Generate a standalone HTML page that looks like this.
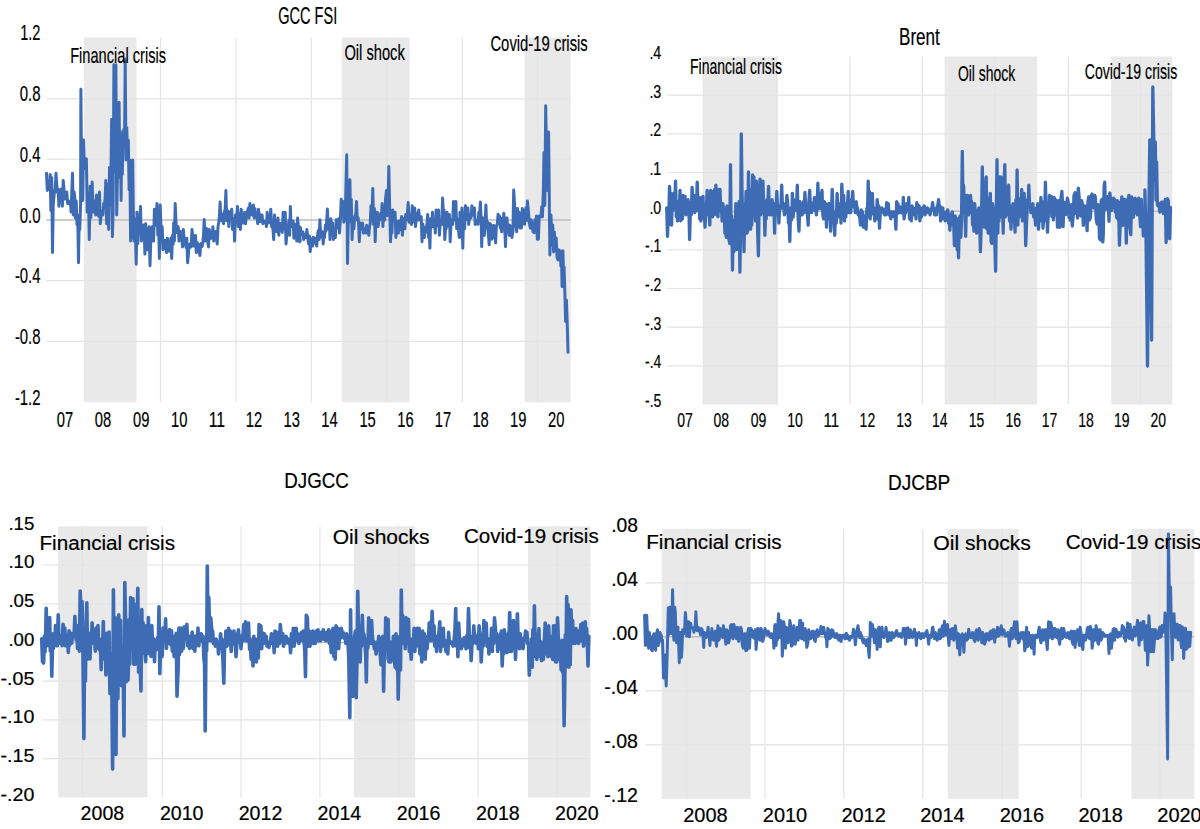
<!DOCTYPE html>
<html><head><meta charset="utf-8"><style>
html,body{margin:0;padding:0;background:#fff;}
svg{display:block;font-family:"Liberation Sans", sans-serif;}
</style></head><body>
<svg width="1200" height="829" viewBox="0 0 1200 829">
<rect width="1200" height="829" fill="#fff"/>
<line x1="160.5" y1="37.6" x2="160.5" y2="402.2" stroke="#e4e4e4" stroke-width="1.2"/>
<line x1="236.0" y1="37.6" x2="236.0" y2="402.2" stroke="#e4e4e4" stroke-width="1.2"/>
<line x1="311.3" y1="37.6" x2="311.3" y2="402.2" stroke="#e4e4e4" stroke-width="1.2"/>
<line x1="387.0" y1="37.6" x2="387.0" y2="402.2" stroke="#e4e4e4" stroke-width="1.2"/>
<line x1="462.4" y1="37.6" x2="462.4" y2="402.2" stroke="#e4e4e4" stroke-width="1.2"/>
<line x1="537.5" y1="37.6" x2="537.5" y2="402.2" stroke="#e4e4e4" stroke-width="1.2"/>
<line x1="46.5" y1="98.8" x2="570.7" y2="98.8" stroke="#e4e4e4" stroke-width="1.2"/>
<line x1="46.5" y1="159.2" x2="570.7" y2="159.2" stroke="#e4e4e4" stroke-width="1.2"/>
<line x1="46.5" y1="280.6" x2="570.7" y2="280.6" stroke="#e4e4e4" stroke-width="1.2"/>
<line x1="46.5" y1="341.3" x2="570.7" y2="341.3" stroke="#e4e4e4" stroke-width="1.2"/>
<rect x="83.9" y="37.6" width="52.7" height="364.6" fill="#e4e4e4" fill-opacity="0.815"/>
<rect x="341.8" y="37.6" width="67.7" height="364.6" fill="#e4e4e4" fill-opacity="0.815"/>
<rect x="524.5" y="37.6" width="46.2" height="364.6" fill="#e4e4e4" fill-opacity="0.815"/>
<line x1="46.5" y1="220.0" x2="570.7" y2="220.0" stroke="#bcbcbc" stroke-width="1.4"/>
<polyline points="46.5,173.2 47.3,190.4 48.0,181.3 48.7,182.4 49.4,189.0 50.2,174.6 50.9,210.6 51.7,177.5 52.5,252.6 53.2,205.3 53.8,198.3 54.5,191.3 55.2,189.0 56.0,173.2 56.7,183.3 57.4,192.3 58.1,189.1 58.9,206.3 59.6,198.4 60.3,199.9 61.0,189.3 61.7,191.2 62.4,206.3 63.2,180.4 63.9,188.2 64.6,199.1 65.3,198.1 66.0,192.6 66.8,192.0 67.6,203.4 68.3,202.5 69.0,203.7 69.7,201.3 70.4,201.6 71.1,212.1 71.9,189.1 72.5,173.2 73.3,215.0 74.0,191.8 74.7,196.3 75.4,217.9 76.2,200.7 77.0,224.7 77.7,215.1 78.5,262.8 79.2,217.4 79.8,229.5 80.6,203.6 80.9,89.2 81.7,200.6 82.7,200.6 83.5,139.9 84.2,162.4 84.9,168.4 85.7,165.0 86.4,158.7 87.2,212.1 87.9,193.3 88.6,201.7 89.3,239.6 90.1,186.2 90.8,217.6 91.5,202.8 92.2,181.9 93.0,212.1 93.7,201.5 94.4,201.0 95.0,205.3 95.7,215.0 96.5,194.9 97.2,205.0 98.0,202.7 98.7,216.3 99.5,192.0 100.3,223.7 100.9,216.7 101.6,213.3 102.3,211.1 102.9,215.0 103.7,203.6 104.4,204.3 105.1,198.8 105.8,180.4 106.6,223.7 107.3,194.2 108.0,184.3 108.7,229.5 109.5,167.4 110.2,205.4 110.9,178.6 111.6,119.6 112.4,236.7 113.1,212.1 113.9,64.7 114.6,171.8 115.2,128.5 115.9,64.7 116.7,215.0 117.5,172.9 118.3,177.4 119.1,102.3 119.7,168.9 120.3,131.2 121.1,200.6 121.7,143.7 122.3,174.5 123.1,137.0 123.8,129.4 124.5,145.9 125.2,58.9 126.0,160.0 126.8,127.8 127.5,157.1 128.3,139.9 129.1,189.7 129.8,160.1 130.6,241.1 131.2,194.7 131.9,238.2 132.7,160.1 133.3,209.3 134.1,241.1 134.8,219.0 135.5,237.6 136.2,264.2 137.0,212.2 137.7,244.0 138.4,225.8 139.1,218.6 139.8,222.6 140.5,206.4 141.3,241.1 142.1,236.8 142.8,235.3 143.5,225.0 144.2,230.9 144.9,254.1 145.7,223.8 146.4,232.2 147.1,232.3 147.8,250.0 148.5,237.1 149.2,226.7 150.0,265.7 150.7,243.4 151.4,236.6 152.2,226.7 152.9,234.3 153.6,241.1 154.4,209.3 155.0,216.3 155.7,225.2 156.4,213.1 157.0,203.6 157.8,235.3 158.6,223.4 159.4,258.4 160.2,205.0 160.9,225.9 161.6,231.2 162.2,226.7 163.0,249.8 163.8,246.1 164.5,244.9 165.2,240.3 165.9,248.0 166.6,252.6 167.4,238.3 168.1,243.2 168.8,245.5 169.5,251.2 170.2,249.5 170.9,238.3 171.7,258.4 172.4,235.6 173.1,244.4 173.7,222.7 174.4,241.1 175.2,203.6 175.9,220.3 176.7,232.6 177.4,228.8 178.2,226.7 179.0,241.1 179.7,232.8 180.4,231.4 181.1,232.3 181.8,238.2 182.5,246.9 183.3,229.6 184.0,237.6 184.7,244.5 185.4,243.8 186.1,247.4 186.8,238.3 187.6,262.8 188.4,254.8 189.1,245.4 189.8,244.1 190.5,245.1 191.2,246.9 192.0,229.6 192.7,235.9 193.4,236.7 194.1,246.2 194.8,246.4 195.5,235.4 196.3,252.6 197.0,242.6 197.7,243.4 198.5,249.6 199.2,252.2 199.9,255.5 200.7,244.1 201.4,243.3 202.1,246.5 202.8,242.4 203.5,235.5 204.2,219.5 205.0,241.1 205.7,230.8 206.4,228.4 207.1,229.4 207.8,242.0 208.5,246.9 209.3,229.6 210.1,234.6 210.8,238.6 211.5,233.2 212.2,237.9 212.9,226.7 213.7,241.1 214.4,235.1 215.1,232.4 215.8,231.4 216.5,237.4 217.2,244.0 218.0,226.7 218.7,222.5 219.4,216.3 220.1,202.1 220.9,220.8 221.6,213.7 222.3,218.1 222.9,217.3 223.6,223.7 224.4,212.2 225.2,208.9 225.9,190.5 226.7,220.8 227.4,216.9 228.1,211.1 228.8,226.6 229.6,212.2 230.3,214.4 231.0,216.7 231.7,209.3 232.5,229.5 233.2,221.5 233.9,218.5 234.6,241.1 235.4,215.1 236.1,219.3 236.8,218.5 237.5,206.4 238.3,226.6 239.0,218.4 239.7,213.7 240.4,229.5 241.2,209.3 241.9,217.5 242.6,223.0 243.3,223.1 244.0,219.6 244.7,212.2 245.5,223.7 246.2,218.0 246.9,215.8 247.6,210.6 248.4,208.1 249.1,217.9 249.9,203.6 250.6,206.5 251.3,214.6 252.0,212.9 252.7,215.2 253.4,205.0 254.2,217.9 254.9,208.4 255.6,214.7 256.3,214.3 257.0,217.6 257.7,223.7 258.5,209.3 259.3,215.6 260.0,221.5 260.7,215.3 261.4,219.1 262.1,215.1 262.9,223.7 263.6,220.9 264.3,222.2 265.0,221.2 265.7,221.1 266.4,226.6 267.2,212.2 267.9,221.9 268.6,223.0 269.4,217.0 270.1,220.2 270.8,209.3 271.6,226.6 272.3,226.2 273.0,229.5 273.7,239.6 274.5,215.1 275.2,226.0 275.9,231.1 276.6,231.6 277.3,227.7 278.0,218.0 278.8,235.3 279.5,227.2 280.2,223.5 280.9,225.1 281.6,224.5 282.3,232.4 283.1,212.2 283.8,217.8 284.5,228.7 285.2,212.2 286.0,244.0 286.7,236.5 287.5,232.6 288.2,228.1 288.9,220.2 289.6,235.3 290.4,206.4 291.0,226.9 291.7,226.4 292.4,226.6 293.1,220.9 293.9,238.2 294.6,233.6 295.3,224.2 296.1,233.0 296.8,241.1 297.6,218.0 298.2,224.9 298.8,233.6 299.4,226.7 300.2,241.1 299.6,241.8 300.4,227.4 301.2,234.8 302.0,233.6 302.9,231.8 303.7,239.6 304.5,236.0 305.3,234.2 306.1,237.5 306.9,229.6 307.7,237.7 308.6,243.9 309.4,236.1 310.2,251.6 311.0,241.0 311.8,238.9 312.6,246.1 313.4,237.2 314.2,240.8 315.1,243.0 315.9,238.3 316.7,246.1 317.5,235.8 318.3,230.6 319.1,239.6 319.9,219.8 320.8,236.9 321.6,236.7 322.4,231.8 323.2,244.0 323.9,234.2 324.6,237.5 325.4,225.3 326.0,230.9 326.7,221.1 327.4,209.0 328.2,228.8 328.8,224.5 329.4,221.8 330.0,239.6 330.8,218.7 331.4,229.1 332.0,234.2 332.6,223.1 333.4,239.6 334.1,234.9 334.8,233.8 335.4,237.5 336.2,219.8 337.0,226.5 337.9,227.7 338.7,218.7 339.5,233.1 340.4,220.1 341.2,199.2 341.8,207.9 342.4,206.2 343.0,201.4 343.8,222.3 344.5,206.9 345.2,220.1 346.0,184.0 346.7,154.7 347.5,263.5 348.3,221.4 349.1,222.3 349.9,179.7 350.6,219.5 351.3,199.2 352.1,239.6 352.7,224.7 353.3,227.8 353.9,228.8 354.7,216.6 355.3,216.6 355.9,211.2 356.5,201.4 357.3,220.1 358.0,217.4 358.6,222.5 359.3,241.8 360.1,223.1 360.9,228.1 361.7,228.8 362.6,223.1 363.4,233.1 364.2,229.2 365.0,228.8 365.8,233.1 366.6,225.3 367.3,229.3 368.0,227.4 368.8,235.3 369.5,226.1 370.2,224.4 371.0,205.7 371.6,219.7 372.2,208.4 372.8,188.4 373.6,224.4 374.4,208.6 375.2,241.8 376.0,214.4 376.6,217.5 377.3,212.2 378.1,226.6 378.8,220.7 379.5,220.1 380.3,214.4 380.9,213.2 381.5,218.1 382.1,203.5 382.9,226.6 383.5,214.3 384.1,208.8 384.7,220.1 385.5,199.2 386.5,190.5 387.3,215.7 388.0,207.1 388.8,166.6 389.7,207.9 390.5,241.8 391.2,228.5 391.9,233.1 392.7,210.1 393.5,215.4 394.3,218.1 395.1,212.2 395.9,237.5 396.8,225.0 397.6,221.3 398.4,233.1 399.2,220.9 400.0,229.7 400.8,223.5 401.6,216.6 402.4,235.3 403.3,220.5 404.1,218.5 404.9,228.8 405.7,214.4 406.5,219.9 407.3,214.8 408.2,202.5 409.0,222.3 409.8,214.9 410.6,216.1 411.4,224.4 412.2,205.7 413.0,219.5 413.9,222.0 414.7,207.9 415.5,226.6 416.3,218.4 417.1,213.3 417.9,220.1 418.7,210.1 419.6,219.5 420.4,220.3 421.2,216.6 422.0,241.8 422.8,224.0 423.6,231.1 424.4,237.5 425.2,227.4 426.1,232.2 426.9,224.3 427.7,214.4 428.5,237.5 429.2,225.9 429.9,248.3 430.7,218.7 431.3,226.4 431.9,226.6 432.5,212.2 433.3,226.6 434.0,220.4 434.6,222.3 435.3,233.1 436.1,210.1 436.9,225.9 437.7,220.6 438.6,210.1 439.4,235.3 440.2,223.7 441.0,221.8 441.8,224.4 442.6,198.1 443.3,210.7 444.0,210.1 444.8,239.6 445.5,229.1 446.2,228.8 447.0,212.2 447.8,225.9 448.6,219.9 449.4,214.4 450.2,241.8 451.0,222.3 451.9,219.9 452.7,224.4 453.5,201.4 454.3,220.1 455.1,212.3 455.9,201.4 456.7,228.8 457.6,219.5 458.4,227.9 459.2,237.5 460.0,212.2 460.7,231.7 461.3,237.1 462.0,207.9 462.8,248.3 463.4,223.7 464.0,223.7 464.6,228.8 465.4,205.7 466.2,212.9 467.1,219.2 467.9,207.9 468.7,224.4 469.5,217.8 470.3,214.5 471.1,217.9 471.9,205.7 472.7,215.2 473.6,211.9 474.4,207.9 475.2,224.4 475.9,220.6 476.6,221.6 477.3,221.8 478.0,224.3 478.8,212.3 479.6,215.7 480.4,202.1 481.2,222.4 481.7,246.7 482.5,217.9 483.6,217.9 484.4,235.5 485.1,224.3 485.9,204.9 486.6,223.4 487.4,221.7 488.2,231.8 489.2,244.8 490.0,223.6 491.1,225.4 491.9,239.2 493.0,237.4 493.8,225.4 494.8,227.3 495.6,243.0 496.4,225.7 497.3,224.3 498.1,214.2 498.8,223.5 499.5,216.1 500.3,228.0 501.0,226.4 501.7,231.8 502.5,217.9 503.2,220.6 503.8,213.3 504.6,224.3 505.5,246.7 506.3,217.9 507.0,217.9 507.8,231.8 508.5,224.5 509.2,235.5 510.0,225.4 511.1,227.3 511.9,237.4 512.9,231.8 513.7,189.9 514.8,208.6 515.6,224.3 516.7,231.8 517.5,208.6 518.3,219.5 519.1,212.3 519.9,228.0 520.7,219.8 521.5,228.0 522.3,208.6 523.1,220.7 523.8,210.5 524.6,224.3 525.3,215.1 525.9,207.7 526.6,220.6 527.4,201.1 528.5,212.3 529.3,222.4 530.3,228.0 531.1,219.8 532.2,223.6 533.0,231.8 534.1,232.7 534.9,219.8 535.7,230.5 536.5,216.1 537.3,239.2 538.4,239.2 539.2,216.1 540.2,216.1 541.0,216.8 541.7,206.8 542.5,216.8 543.3,191.8 544.0,152.6 544.8,205.6 544.9,198.1 545.7,105.8 546.2,133.9 547.0,183.2 547.7,190.7 548.5,180.6 548.6,132.0 549.4,205.6 549.3,205.0 549.9,255.0 551.0,215.0 552.0,245.0 552.8,225.0 553.6,252.0 554.4,232.0 555.3,250.0 556.2,238.0 557.0,257.0 558.0,260.0 558.8,249.7 559.4,259.1 560.1,250.7 560.9,266.1 561.5,258.1 562.1,286.6 562.9,250.7 563.5,271.4 564.1,267.1 564.9,294.8 565.6,321.5 566.4,299.9 567.2,322.4 568.0,352.2" fill="none" stroke="#3d6cb5" stroke-width="3.0" stroke-linejoin="round" stroke-linecap="round"/>
<text x="278.3" y="23.7" font-size="23.7" text-anchor="start" fill="#000" stroke="#000" stroke-width="0.2" textLength="58.9" lengthAdjust="spacingAndGlyphs">GCC FSI</text>
<text x="20.2" y="40.2" font-size="21.2" text-anchor="start" fill="#000" stroke="#000" stroke-width="0.2" textLength="20.3" lengthAdjust="spacingAndGlyphs">1.2</text>
<text x="19.7" y="101.4" font-size="21.2" text-anchor="start" fill="#000" stroke="#000" stroke-width="0.2" textLength="20.8" lengthAdjust="spacingAndGlyphs">0.8</text>
<text x="19.7" y="161.8" font-size="21.2" text-anchor="start" fill="#000" stroke="#000" stroke-width="0.2" textLength="20.8" lengthAdjust="spacingAndGlyphs">0.4</text>
<text x="19.7" y="222.6" font-size="21.2" text-anchor="start" fill="#000" stroke="#000" stroke-width="0.2" textLength="20.8" lengthAdjust="spacingAndGlyphs">0.0</text>
<text x="14.9" y="283.2" font-size="21.2" text-anchor="start" fill="#000" stroke="#000" stroke-width="0.2" textLength="25.6" lengthAdjust="spacingAndGlyphs">-0.4</text>
<text x="14.9" y="343.9" font-size="21.2" text-anchor="start" fill="#000" stroke="#000" stroke-width="0.2" textLength="25.6" lengthAdjust="spacingAndGlyphs">-0.8</text>
<text x="14.9" y="404.8" font-size="21.2" text-anchor="start" fill="#000" stroke="#000" stroke-width="0.2" textLength="25.6" lengthAdjust="spacingAndGlyphs">-1.2</text>
<text x="56.8" y="426.5" font-size="22.3" text-anchor="start" fill="#000" stroke="#000" stroke-width="0.2" textLength="16.4" lengthAdjust="spacingAndGlyphs">07</text>
<text x="94.8" y="426.5" font-size="22.3" text-anchor="start" fill="#000" stroke="#000" stroke-width="0.2" textLength="16.4" lengthAdjust="spacingAndGlyphs">08</text>
<text x="133.1" y="426.5" font-size="22.3" text-anchor="start" fill="#000" stroke="#000" stroke-width="0.2" textLength="16.4" lengthAdjust="spacingAndGlyphs">09</text>
<text x="171.1" y="426.5" font-size="22.3" text-anchor="start" fill="#000" stroke="#000" stroke-width="0.2" textLength="16.4" lengthAdjust="spacingAndGlyphs">10</text>
<text x="208.7" y="426.5" font-size="22.3" text-anchor="start" fill="#000" stroke="#000" stroke-width="0.2" textLength="16.4" lengthAdjust="spacingAndGlyphs">11</text>
<text x="245.8" y="426.5" font-size="22.3" text-anchor="start" fill="#000" stroke="#000" stroke-width="0.2" textLength="16.4" lengthAdjust="spacingAndGlyphs">12</text>
<text x="283.5" y="426.5" font-size="22.3" text-anchor="start" fill="#000" stroke="#000" stroke-width="0.2" textLength="16.4" lengthAdjust="spacingAndGlyphs">13</text>
<text x="321.2" y="426.5" font-size="22.3" text-anchor="start" fill="#000" stroke="#000" stroke-width="0.2" textLength="16.4" lengthAdjust="spacingAndGlyphs">14</text>
<text x="359.4" y="426.5" font-size="22.3" text-anchor="start" fill="#000" stroke="#000" stroke-width="0.2" textLength="16.4" lengthAdjust="spacingAndGlyphs">15</text>
<text x="397.2" y="426.5" font-size="22.3" text-anchor="start" fill="#000" stroke="#000" stroke-width="0.2" textLength="16.4" lengthAdjust="spacingAndGlyphs">16</text>
<text x="434.8" y="426.5" font-size="22.3" text-anchor="start" fill="#000" stroke="#000" stroke-width="0.2" textLength="16.4" lengthAdjust="spacingAndGlyphs">17</text>
<text x="472.4" y="426.5" font-size="22.3" text-anchor="start" fill="#000" stroke="#000" stroke-width="0.2" textLength="16.4" lengthAdjust="spacingAndGlyphs">18</text>
<text x="510.0" y="426.5" font-size="22.3" text-anchor="start" fill="#000" stroke="#000" stroke-width="0.2" textLength="16.4" lengthAdjust="spacingAndGlyphs">19</text>
<text x="548.0" y="426.5" font-size="22.3" text-anchor="start" fill="#000" stroke="#000" stroke-width="0.2" textLength="16.4" lengthAdjust="spacingAndGlyphs">20</text>
<text x="70.2" y="63.0" font-size="22.8" text-anchor="start" fill="#000" stroke="#000" stroke-width="0.2" textLength="95.8" lengthAdjust="spacingAndGlyphs">Financial crisis</text>
<text x="344.4" y="59.7" font-size="22.8" text-anchor="start" fill="#000" stroke="#000" stroke-width="0.2" textLength="60.4" lengthAdjust="spacingAndGlyphs">Oil shock</text>
<text x="490.4" y="51.0" font-size="22.8" text-anchor="start" fill="#000" stroke="#000" stroke-width="0.2" textLength="97.4" lengthAdjust="spacingAndGlyphs">Covid-19 crisis</text>
<line x1="703.4" y1="56.5" x2="703.4" y2="404.5" stroke="#e4e4e4" stroke-width="1.2"/>
<line x1="776.6" y1="56.5" x2="776.6" y2="404.5" stroke="#e4e4e4" stroke-width="1.2"/>
<line x1="850.1" y1="56.5" x2="850.1" y2="404.5" stroke="#e4e4e4" stroke-width="1.2"/>
<line x1="922.3" y1="56.5" x2="922.3" y2="404.5" stroke="#e4e4e4" stroke-width="1.2"/>
<line x1="995.1" y1="56.5" x2="995.1" y2="404.5" stroke="#e4e4e4" stroke-width="1.2"/>
<line x1="1068.2" y1="56.5" x2="1068.2" y2="404.5" stroke="#e4e4e4" stroke-width="1.2"/>
<line x1="1140.5" y1="56.5" x2="1140.5" y2="404.5" stroke="#e4e4e4" stroke-width="1.2"/>
<line x1="667.0" y1="95.2" x2="1172.3" y2="95.2" stroke="#e4e4e4" stroke-width="1.2"/>
<line x1="667.0" y1="133.8" x2="1172.3" y2="133.8" stroke="#e4e4e4" stroke-width="1.2"/>
<line x1="667.0" y1="172.5" x2="1172.3" y2="172.5" stroke="#e4e4e4" stroke-width="1.2"/>
<line x1="667.0" y1="249.9" x2="1172.3" y2="249.9" stroke="#e4e4e4" stroke-width="1.2"/>
<line x1="667.0" y1="288.5" x2="1172.3" y2="288.5" stroke="#e4e4e4" stroke-width="1.2"/>
<line x1="667.0" y1="327.2" x2="1172.3" y2="327.2" stroke="#e4e4e4" stroke-width="1.2"/>
<line x1="667.0" y1="365.9" x2="1172.3" y2="365.9" stroke="#e4e4e4" stroke-width="1.2"/>
<rect x="703.2" y="56.5" width="74.7" height="348.0" fill="#e4e4e4" fill-opacity="0.815"/>
<rect x="944.6" y="56.5" width="92.6" height="348.0" fill="#e4e4e4" fill-opacity="0.815"/>
<rect x="1111.2" y="56.5" width="61.0" height="348.0" fill="#e4e4e4" fill-opacity="0.815"/>
<line x1="667.0" y1="211.2" x2="1172.3" y2="211.2" stroke="#bcbcbc" stroke-width="1.4"/>
<polyline points="666.7,207.8 667.5,236.3 668.1,220.0 668.7,225.0 669.5,186.3 670.2,199.3 670.8,193.4 671.6,225.0 672.2,200.2 672.8,210.7 673.6,193.4 674.3,201.3 674.9,204.2 675.5,181.1 676.3,216.8 676.9,211.1 677.5,220.9 678.3,201.7 679.2,211.5 680.0,190.4 680.8,220.9 681.6,214.1 682.5,218.9 683.3,195.5 683.9,206.6 684.5,211.9 685.1,196.5 685.9,214.8 686.6,201.7 687.2,212.7 688.0,199.6 688.8,203.7 689.6,239.4 690.5,205.7 691.3,214.8 692.1,187.3 692.7,202.5 693.3,200.3 694.0,195.5 694.8,212.7 695.6,203.6 696.4,210.7 697.2,182.2 698.1,204.5 698.9,197.5 699.7,218.9 700.3,209.0 700.9,220.9 701.7,197.5 702.4,213.5 703.0,196.5 703.8,218.9 704.4,213.4 705.0,227.1 705.8,207.8 706.5,207.4 707.1,190.4 707.9,214.8 708.5,202.2 709.1,212.9 709.8,225.0 710.6,190.4 711.2,213.6 711.8,191.4 712.6,216.8 713.2,198.3 713.9,214.8 714.7,189.3 715.3,207.2 715.9,185.2 716.7,214.8 717.3,210.1 718.0,216.8 718.8,189.3 719.4,201.9 720.0,189.3 720.8,210.7 721.4,207.1 722.1,220.9 722.9,203.7 723.5,212.3 724.1,207.8 724.9,233.2 725.5,221.7 726.2,237.3 727.0,205.8 727.6,223.1 728.2,209.9 729.0,239.4 729.7,243.5 730.5,164.7 731.1,228.1 731.7,216.0 732.5,270.1 733.1,226.5 733.8,251.7 734.6,220.1 735.2,242.9 735.8,203.7 736.6,249.6 737.4,241.4 738.2,207.8 739.1,201.7 739.9,272.2 740.5,233.2 741.3,134.0 742.0,189.3 742.8,235.3 743.4,220.5 744.0,251.7 744.8,203.7 745.4,217.1 746.1,191.4 746.9,233.2 747.7,231.2 748.5,171.9 749.1,214.9 749.8,189.3 750.6,229.1 751.2,206.4 751.8,225.0 752.6,175.0 753.2,194.7 753.9,177.0 754.7,202.5 755.5,220.9 756.3,181.1 756.9,195.5 757.7,233.2 758.4,255.8 759.2,199.6 760.0,179.1 760.8,214.8 761.4,201.0 762.1,212.7 762.9,181.1 763.5,199.4 764.1,203.7 764.9,235.3 765.5,215.0 766.2,218.9 767.0,199.6 767.8,203.6 768.6,186.3 769.4,214.8 770.0,209.8 770.7,210.3 771.3,214.8 772.1,199.6 772.9,209.5 773.8,203.7 774.6,233.2 775.3,209.3 776.0,210.7 776.8,191.4 777.4,204.1 778.1,207.8 778.9,223.0 779.6,208.5 780.2,207.2 780.9,208.6 781.7,185.2 782.4,206.0 783.0,204.9 783.6,203.7 784.4,214.8 785.2,205.0 786.1,212.7 786.9,195.5 787.7,203.7 788.5,223.0 789.1,213.8 789.8,241.4 790.6,207.8 791.2,220.4 791.8,218.9 792.4,193.4 793.2,216.8 794.1,201.0 794.9,210.7 795.7,199.6 796.5,206.9 797.3,185.2 798.1,216.8 799.0,231.2 799.8,201.7 800.6,206.6 801.4,203.7 802.2,214.8 802.9,204.2 803.5,201.8 804.1,212.7 804.9,192.4 805.7,207.8 806.6,203.7 807.4,214.8 808.2,225.0 809.0,199.6 809.7,190.4 810.5,210.7 811.1,202.7 811.7,212.7 812.5,203.7 813.1,205.9 813.7,206.4 814.4,197.5 815.2,210.7 815.8,202.8 816.4,214.8 817.2,201.7 817.9,183.2 818.7,208.6 819.3,201.5 819.9,208.6 820.7,193.4 821.3,197.0 822.0,190.4 822.8,214.8 823.6,218.9 824.4,201.7 825.0,213.0 825.7,203.7 826.5,227.1 827.1,210.3 827.7,218.9 828.5,203.7 829.1,210.2 829.8,203.7 830.6,231.2 831.4,216.8 832.2,189.3 833.0,213.8 833.9,211.9 834.7,235.3 835.5,214.8 836.3,223.0 837.1,193.4 837.7,207.5 838.4,203.7 839.2,216.8 839.8,206.8 840.4,206.4 841.0,223.0 841.8,184.2 842.5,197.7 843.1,201.0 843.7,195.5 844.5,220.9 845.1,210.8 845.8,216.8 846.6,203.7 847.4,207.7 848.2,191.4 849.0,212.7 849.8,204.4 850.7,212.7 851.5,199.6 852.1,205.7 852.7,191.4 853.5,206.6 854.2,202.7 854.8,207.3 855.4,212.7 856.2,201.7 856.8,207.7 857.4,207.8 858.2,214.8 859.0,214.8 859.8,217.9 860.5,225.0 861.3,209.9 861.9,221.6 862.6,211.9 863.4,225.0 863.3,227.1 864.1,216.0 864.7,221.3 865.3,218.1 866.1,229.1 866.8,208.5 867.4,216.8 868.2,181.1 868.8,210.6 869.4,191.4 870.2,218.9 870.9,199.9 871.5,212.7 872.3,193.4 873.1,213.9 874.0,207.8 874.8,220.9 875.6,215.8 876.4,218.9 877.2,199.6 877.9,208.2 878.7,205.8 879.5,228.1 880.3,211.3 881.1,212.7 881.9,207.8 882.6,211.9 883.2,211.8 883.8,211.9 884.6,214.8 885.2,209.1 885.9,214.8 886.7,202.7 887.5,211.4 888.3,203.7 889.1,214.8 889.9,211.9 890.8,218.9 891.6,211.9 892.2,216.2 892.8,213.4 893.4,211.9 894.2,216.8 895.1,213.9 895.9,229.1 896.7,201.7 897.3,214.0 898.0,203.7 898.8,212.7 899.4,206.5 900.0,208.4 900.6,212.7 901.4,207.8 902.0,210.8 902.7,213.1 903.3,197.5 904.1,218.9 904.9,212.7 905.8,212.7 906.6,203.7 907.3,205.0 908.1,208.3 908.8,197.5 909.6,218.9 910.5,213.8 911.3,220.9 912.1,205.8 912.7,212.3 913.3,207.8 914.1,214.8 914.8,212.3 915.4,208.3 916.0,218.9 916.8,202.7 917.6,207.3 918.3,208.6 919.1,205.8 919.9,220.9 920.7,209.2 921.5,216.8 922.3,207.8 923.0,211.9 923.6,211.0 924.2,205.8 925.0,214.8 925.8,210.6 926.7,212.7 927.5,207.8 928.1,210.3 928.7,211.6 929.3,211.9 930.1,214.8 931.0,208.7 931.8,208.6 932.6,202.7 933.2,209.9 933.9,207.8 934.7,214.8 935.3,213.3 935.9,212.9 936.5,214.8 937.3,205.8 937.9,204.8 938.6,199.6 939.4,208.6 940.0,206.1 940.6,220.9 941.4,207.8 942.1,217.3 942.7,207.8 943.5,218.9 944.1,214.1 944.7,217.0 945.3,220.9 946.1,211.9 947.0,215.2 947.8,209.9 948.6,223.0 949.2,218.9 949.9,230.1 950.7,214.0 951.5,220.4 952.3,211.9 953.1,225.0 953.7,223.7 954.4,245.5 955.2,216.0 955.8,234.3 956.4,218.1 957.2,249.6 957.8,225.6 958.5,257.8 959.3,220.1 960.1,216.0 960.9,237.3 961.5,220.9 962.3,151.4 963.0,198.8 963.6,185.2 964.4,212.7 965.0,215.0 965.7,236.3 966.5,195.5 967.1,204.4 967.7,195.5 968.5,214.8 969.1,204.1 969.8,212.7 970.6,195.5 971.2,211.8 971.8,201.7 972.6,225.0 973.2,213.8 973.9,231.2 974.7,203.7 975.3,214.5 975.9,209.9 976.7,233.2 977.3,215.2 978.0,229.1 978.8,207.8 979.6,218.1 980.4,251.7 981.0,233.2 981.8,199.6 982.3,166.8 983.1,220.9 983.7,201.4 984.3,227.1 985.1,189.3 986.2,177.0 987.0,229.1 987.6,198.1 988.2,233.2 989.0,203.7 989.6,227.7 990.3,193.4 991.1,241.4 991.9,243.5 992.7,203.7 993.3,231.2 994.0,207.8 994.8,241.4 995.6,271.2 996.4,207.8 997.0,159.6 997.8,233.2 998.5,205.4 999.1,220.9 999.9,177.0 1000.5,207.6 1001.1,177.0 1001.9,216.8 1002.6,207.1 1003.2,233.2 1004.0,187.3 1004.8,164.7 1005.6,216.8 1006.3,194.6 1006.9,214.8 1007.7,191.4 1008.7,185.2 1009.5,220.9 1010.3,212.1 1011.0,229.1 1011.8,205.8 1012.4,213.9 1013.0,203.7 1013.8,216.8 1014.5,220.1 1015.1,232.2 1015.9,199.6 1016.5,215.2 1017.1,169.9 1017.9,225.0 1018.6,198.6 1019.2,216.8 1020.0,203.7 1020.8,213.6 1021.7,189.3 1022.5,220.9 1023.3,210.7 1024.1,193.4 1024.9,207.8 1025.7,245.5 1026.8,216.8 1027.6,199.6 1028.2,204.4 1028.8,185.2 1029.6,204.5 1030.3,204.4 1030.9,212.7 1031.7,205.8 1032.3,211.8 1032.9,203.7 1033.7,216.8 1034.4,211.4 1035.0,218.4 1035.6,225.0 1036.4,207.8 1037.0,221.6 1037.7,203.7 1038.5,229.1 1039.3,215.9 1040.1,220.9 1040.9,197.5 1041.5,216.3 1042.2,201.7 1043.0,228.1 1043.8,213.7 1044.6,220.9 1045.4,182.2 1046.1,207.7 1046.7,203.7 1047.5,232.2 1048.1,215.6 1048.7,216.8 1049.5,195.5 1050.2,200.6 1050.8,204.4 1051.4,196.5 1052.2,216.8 1052.8,207.3 1053.4,219.9 1054.2,197.5 1054.9,202.1 1055.5,199.6 1056.3,214.8 1056.9,208.6 1057.5,227.1 1058.3,200.6 1059.0,201.7 1059.8,227.1 1060.2,210.7 1061.0,198.1 1061.9,191.4 1062.7,208.0 1063.1,226.6 1063.9,202.1 1064.9,204.7 1065.7,214.7 1066.6,208.0 1067.4,198.1 1068.2,202.1 1069.0,217.3 1069.6,212.9 1070.2,220.0 1071.0,207.4 1071.5,204.7 1072.3,226.0 1073.2,214.7 1074.0,195.4 1075.1,192.8 1075.9,213.4 1076.7,205.1 1077.5,218.0 1078.3,188.1 1079.1,196.8 1079.9,212.0 1080.8,216.0 1081.6,200.7 1082.5,204.7 1083.3,225.3 1084.1,208.0 1084.9,206.0 1085.7,207.4 1086.5,218.7 1087.1,230.6 1087.9,202.1 1088.7,196.8 1089.5,220.0 1090.5,217.3 1091.3,195.4 1092.1,194.1 1092.9,206.7 1093.4,198.9 1094.0,208.0 1094.8,195.4 1095.4,198.1 1096.2,218.7 1097.1,224.0 1097.9,204.7 1098.7,207.4 1099.5,238.6 1100.4,239.9 1101.2,200.7 1102.0,199.4 1102.8,241.9 1103.3,233.3 1104.1,186.1 1104.7,182.2 1105.5,209.4 1106.0,204.1 1106.8,199.4 1107.6,196.8 1108.4,208.0 1109.0,221.3 1109.8,192.8 1110.6,199.4 1111.4,210.7 1112.0,207.1 1112.6,208.0 1113.4,198.1 1114.0,205.6 1114.6,199.4 1115.4,212.0 1116.0,205.9 1116.6,217.3 1117.4,200.7 1118.0,219.4 1118.6,202.1 1119.4,245.2 1120.2,225.3 1121.0,204.7 1121.9,196.8 1122.7,225.3 1123.3,212.2 1123.9,222.6 1124.7,199.4 1125.5,207.4 1126.3,243.2 1127.2,212.0 1128.0,199.4 1128.9,195.4 1129.7,222.6 1130.8,234.6 1131.6,196.8 1132.5,202.1 1133.3,217.3 1134.2,209.4 1135.0,198.1 1135.8,199.4 1136.6,212.0 1137.4,214.7 1138.2,202.1 1138.7,198.1 1139.5,209.4 1140.5,226.6 1141.3,199.4 1141.9,219.2 1142.5,212.7 1143.3,235.9 1144.1,235.9 1144.9,207.4 1144.9,190.0 1146.0,236.0 1147.5,366.0 1148.6,230.0 1149.8,140.0 1150.6,250.0 1151.6,340.0 1152.8,87.0 1153.8,140.0 1154.6,180.0 1155.3,142.0 1156.0,200.0 1156.6,162.0 1157.4,205.0 1158.4,206.0 1159.0,203.4 1159.8,212.0 1160.8,210.7 1161.6,202.1 1162.4,202.1 1163.2,213.4 1164.0,208.0 1164.8,202.1 1165.3,199.4 1166.1,242.5 1166.6,233.3 1167.4,198.7 1168.3,200.7 1169.1,227.9 1169.7,238.6 1170.5,207.4" fill="none" stroke="#3d6cb5" stroke-width="3.3" stroke-linejoin="round" stroke-linecap="round"/>
<text x="899.0" y="44.6" font-size="23.8" text-anchor="start" fill="#000" stroke="#000" stroke-width="0.2" textLength="40.8" lengthAdjust="spacingAndGlyphs">Brent</text>
<text x="649.4" y="58.9" font-size="19" text-anchor="start" fill="#000" stroke="#000" stroke-width="0.2" textLength="11.9" lengthAdjust="spacingAndGlyphs">.4</text>
<text x="649.4" y="97.6" font-size="19" text-anchor="start" fill="#000" stroke="#000" stroke-width="0.2" textLength="11.9" lengthAdjust="spacingAndGlyphs">.3</text>
<text x="649.4" y="136.2" font-size="19" text-anchor="start" fill="#000" stroke="#000" stroke-width="0.2" textLength="11.9" lengthAdjust="spacingAndGlyphs">.2</text>
<text x="649.4" y="174.9" font-size="19" text-anchor="start" fill="#000" stroke="#000" stroke-width="0.2" textLength="11.9" lengthAdjust="spacingAndGlyphs">.1</text>
<text x="649.4" y="213.6" font-size="19" text-anchor="start" fill="#000" stroke="#000" stroke-width="0.2" textLength="11.9" lengthAdjust="spacingAndGlyphs">.0</text>
<text x="645.0" y="252.3" font-size="19" text-anchor="start" fill="#000" stroke="#000" stroke-width="0.2" textLength="16.3" lengthAdjust="spacingAndGlyphs">-.1</text>
<text x="645.0" y="290.9" font-size="19" text-anchor="start" fill="#000" stroke="#000" stroke-width="0.2" textLength="16.3" lengthAdjust="spacingAndGlyphs">-.2</text>
<text x="645.0" y="329.6" font-size="19" text-anchor="start" fill="#000" stroke="#000" stroke-width="0.2" textLength="16.3" lengthAdjust="spacingAndGlyphs">-.3</text>
<text x="645.0" y="368.3" font-size="19" text-anchor="start" fill="#000" stroke="#000" stroke-width="0.2" textLength="16.3" lengthAdjust="spacingAndGlyphs">-.4</text>
<text x="645.0" y="406.9" font-size="19" text-anchor="start" fill="#000" stroke="#000" stroke-width="0.2" textLength="16.3" lengthAdjust="spacingAndGlyphs">-.5</text>
<text x="677.3" y="427.0" font-size="20.8" text-anchor="start" fill="#000" stroke="#000" stroke-width="0.2" textLength="15.6" lengthAdjust="spacingAndGlyphs">07</text>
<text x="713.4" y="427.0" font-size="20.8" text-anchor="start" fill="#000" stroke="#000" stroke-width="0.2" textLength="15.6" lengthAdjust="spacingAndGlyphs">08</text>
<text x="750.7" y="427.0" font-size="20.8" text-anchor="start" fill="#000" stroke="#000" stroke-width="0.2" textLength="15.6" lengthAdjust="spacingAndGlyphs">09</text>
<text x="787.2" y="427.0" font-size="20.8" text-anchor="start" fill="#000" stroke="#000" stroke-width="0.2" textLength="15.6" lengthAdjust="spacingAndGlyphs">10</text>
<text x="823.4" y="427.0" font-size="20.8" text-anchor="start" fill="#000" stroke="#000" stroke-width="0.2" textLength="15.6" lengthAdjust="spacingAndGlyphs">11</text>
<text x="859.6" y="427.0" font-size="20.8" text-anchor="start" fill="#000" stroke="#000" stroke-width="0.2" textLength="15.6" lengthAdjust="spacingAndGlyphs">12</text>
<text x="896.2" y="427.0" font-size="20.8" text-anchor="start" fill="#000" stroke="#000" stroke-width="0.2" textLength="15.6" lengthAdjust="spacingAndGlyphs">13</text>
<text x="932.0" y="427.0" font-size="20.8" text-anchor="start" fill="#000" stroke="#000" stroke-width="0.2" textLength="15.6" lengthAdjust="spacingAndGlyphs">14</text>
<text x="968.8" y="427.0" font-size="20.8" text-anchor="start" fill="#000" stroke="#000" stroke-width="0.2" textLength="15.6" lengthAdjust="spacingAndGlyphs">15</text>
<text x="1005.5" y="427.0" font-size="20.8" text-anchor="start" fill="#000" stroke="#000" stroke-width="0.2" textLength="15.6" lengthAdjust="spacingAndGlyphs">16</text>
<text x="1041.7" y="427.0" font-size="20.8" text-anchor="start" fill="#000" stroke="#000" stroke-width="0.2" textLength="15.6" lengthAdjust="spacingAndGlyphs">17</text>
<text x="1078.2" y="427.0" font-size="20.8" text-anchor="start" fill="#000" stroke="#000" stroke-width="0.2" textLength="15.6" lengthAdjust="spacingAndGlyphs">18</text>
<text x="1114.0" y="427.0" font-size="20.8" text-anchor="start" fill="#000" stroke="#000" stroke-width="0.2" textLength="15.6" lengthAdjust="spacingAndGlyphs">19</text>
<text x="1150.5" y="427.0" font-size="20.8" text-anchor="start" fill="#000" stroke="#000" stroke-width="0.2" textLength="15.6" lengthAdjust="spacingAndGlyphs">20</text>
<text x="690.0" y="73.6" font-size="21.3" text-anchor="start" fill="#000" stroke="#000" stroke-width="0.2" textLength="91.9" lengthAdjust="spacingAndGlyphs">Financial crisis</text>
<text x="957.9" y="80.6" font-size="21.3" text-anchor="start" fill="#000" stroke="#000" stroke-width="0.2" textLength="57.4" lengthAdjust="spacingAndGlyphs">Oil shock</text>
<text x="1084.8" y="78.6" font-size="21.3" text-anchor="start" fill="#000" stroke="#000" stroke-width="0.2" textLength="92.4" lengthAdjust="spacingAndGlyphs">Covid-19 crisis</text>
<line x1="82.5" y1="526.3" x2="82.5" y2="797.4" stroke="#e4e4e4" stroke-width="1.2"/>
<line x1="162.3" y1="526.3" x2="162.3" y2="797.4" stroke="#e4e4e4" stroke-width="1.2"/>
<line x1="241.0" y1="526.3" x2="241.0" y2="797.4" stroke="#e4e4e4" stroke-width="1.2"/>
<line x1="319.9" y1="526.3" x2="319.9" y2="797.4" stroke="#e4e4e4" stroke-width="1.2"/>
<line x1="399.1" y1="526.3" x2="399.1" y2="797.4" stroke="#e4e4e4" stroke-width="1.2"/>
<line x1="478.0" y1="526.3" x2="478.0" y2="797.4" stroke="#e4e4e4" stroke-width="1.2"/>
<line x1="557.3" y1="526.3" x2="557.3" y2="797.4" stroke="#e4e4e4" stroke-width="1.2"/>
<line x1="42.5" y1="565.0" x2="590.4" y2="565.0" stroke="#e4e4e4" stroke-width="1.2"/>
<line x1="42.5" y1="603.8" x2="590.4" y2="603.8" stroke="#e4e4e4" stroke-width="1.2"/>
<line x1="42.5" y1="681.2" x2="590.4" y2="681.2" stroke="#e4e4e4" stroke-width="1.2"/>
<line x1="42.5" y1="719.9" x2="590.4" y2="719.9" stroke="#e4e4e4" stroke-width="1.2"/>
<line x1="42.5" y1="758.7" x2="590.4" y2="758.7" stroke="#e4e4e4" stroke-width="1.2"/>
<rect x="58.2" y="526.3" width="89.3" height="271.1" fill="#e4e4e4" fill-opacity="0.815"/>
<rect x="353.9" y="526.3" width="61.3" height="271.1" fill="#e4e4e4" fill-opacity="0.815"/>
<rect x="528.0" y="526.3" width="62.4" height="271.1" fill="#e4e4e4" fill-opacity="0.815"/>
<line x1="42.5" y1="642.5" x2="590.4" y2="642.5" stroke="#bcbcbc" stroke-width="1.4"/>
<polyline points="41.7,638.7 42.5,661.7 43.6,663.0 44.4,636.1 45.0,651.8 45.6,637.6 46.2,608.2 47.0,645.8 47.7,631.3 48.3,631.8 48.9,637.8 49.7,617.5 50.3,651.0 51.0,633.4 51.8,676.3 52.6,639.1 53.4,648.4 54.2,633.4 54.9,639.6 55.5,625.5 56.3,645.8 57.4,645.8 58.2,614.9 58.8,637.9 59.5,636.1 60.3,643.1 60.9,636.2 61.5,635.4 62.2,645.8 63.0,624.2 63.6,629.8 64.2,632.6 64.8,628.1 65.6,645.8 66.3,636.6 66.9,634.2 67.6,637.1 68.3,652.4 69.1,630.8 69.7,645.1 70.3,639.8 70.9,633.4 71.7,643.1 72.5,634.1 73.3,634.6 74.1,635.1 74.9,616.2 75.5,630.3 76.1,640.0 76.7,625.5 77.5,648.4 78.2,634.8 78.8,635.8 79.4,651.1 80.2,591.0 80.8,607.5 81.4,627.9 82.1,601.6 82.9,651.1 83.9,738.6 84.7,628.1 85.4,681.2 86.1,626.8 86.8,602.9 87.6,659.0 88.4,648.7 89.2,633.4 90.0,659.0 90.8,633.4 91.5,639.2 92.1,622.8 92.9,643.1 93.7,630.7 94.5,637.3 95.3,651.1 96.1,628.1 96.7,640.3 97.4,631.3 98.0,625.5 98.8,648.4 99.6,650.0 100.4,647.0 101.2,669.6 102.0,638.7 102.6,647.8 103.3,621.5 104.1,659.0 104.7,647.3 105.3,646.1 105.9,674.9 106.7,633.4 107.5,650.5 108.3,665.4 109.1,632.1 109.9,693.5 110.6,670.5 111.2,654.4 111.9,696.0 112.6,769.1 113.4,589.7 114.0,660.0 114.6,636.8 115.2,617.5 116.0,754.5 116.6,656.8 117.3,636.8 117.9,698.8 118.7,614.9 119.3,638.4 119.9,665.9 120.5,620.2 121.3,685.6 122.0,648.3 122.6,683.9 123.3,678.5 124.0,736.0 124.8,582.5 125.6,621.0 126.4,681.7 127.2,620.2 128.0,680.2 128.6,661.5 129.2,619.8 129.8,664.3 130.6,597.6 131.4,648.4 132.2,628.4 133.0,598.9 133.8,664.3 134.5,632.1 135.1,664.3 135.9,604.3 136.5,653.6 137.2,619.2 137.8,588.3 138.6,672.3 139.4,638.2 140.2,666.6 141.0,690.9 141.8,609.6 142.4,652.2 143.1,622.8 143.9,653.7 144.5,639.4 145.1,652.4 145.7,661.7 146.5,625.5 147.1,648.3 147.8,640.7 148.4,617.5 149.2,653.7 149.8,628.9 150.4,641.8 151.0,656.4 151.8,625.5 152.5,643.2 153.1,642.3 153.7,638.7 154.5,661.7 155.1,643.5 155.7,647.4 156.3,649.7 157.1,641.4 157.8,637.1 158.4,640.3 159.0,606.9 159.8,673.6 160.6,646.7 161.4,640.4 162.2,656.4 163.0,628.1 163.6,635.7 164.3,639.5 165.0,634.3 165.6,618.8 166.4,648.4 167.2,638.8 168.0,635.8 168.8,643.1 169.6,629.5 170.2,642.9 170.8,644.6 171.5,630.8 172.3,651.1 172.9,645.7 173.5,641.1 174.1,656.4 174.9,636.1 175.6,645.3 176.2,633.4 177.0,696.2 178.1,669.6 178.9,628.1 179.5,654.7 180.1,648.0 180.8,628.1 181.6,651.1 182.2,640.7 182.8,636.3 183.4,648.4 184.2,626.8 184.9,633.8 185.5,638.8 186.2,636.5 186.9,624.2 187.7,645.8 188.3,638.5 188.9,641.1 189.5,648.4 190.3,636.1 190.9,643.8 191.5,638.0 192.2,632.1 193.0,648.4 193.6,638.8 194.2,647.2 194.8,651.1 195.6,636.1 196.4,645.6 197.2,643.2 198.0,628.1 198.8,645.8 199.6,633.5 200.4,640.8 201.2,633.7 201.9,637.3 202.5,641.7 203.1,636.4 203.9,659.3 204.6,663.7 205.2,731.0 206.0,639.0 206.7,650.8 207.3,566.1 208.1,640.8 208.8,597.4 209.4,621.7 210.0,640.8 210.8,617.8 211.4,626.6 212.0,630.4 212.6,631.1 213.4,643.4 214.1,640.2 214.7,641.1 215.3,646.1 216.1,639.0 216.9,646.0 217.7,641.7 218.5,654.0 219.1,643.4 219.8,648.7 220.6,633.7 221.3,643.7 221.9,639.0 222.7,654.0 223.8,683.2 224.6,644.4 225.2,646.2 225.9,631.1 226.7,646.1 227.8,644.7 228.6,628.4 229.2,636.4 229.8,642.7 230.4,631.1 231.2,651.4 231.8,643.7 232.5,634.5 233.1,643.4 233.9,631.1 234.5,636.9 235.2,633.7 236.0,656.7 236.8,643.6 237.6,640.8 238.4,629.8 239.0,638.6 239.6,642.2 240.2,636.4 241.0,648.7 241.7,636.7 242.3,635.2 242.9,640.8 243.7,624.5 244.3,629.5 244.9,635.3 245.5,621.8 246.3,640.8 247.0,630.1 247.7,640.8 248.5,623.1 249.1,639.5 249.7,649.5 250.3,639.0 251.1,659.3 251.7,647.2 252.4,651.3 253.0,666.0 253.8,636.4 254.4,655.3 255.0,657.5 255.6,639.0 256.4,662.0 257.0,646.2 257.7,641.8 258.3,658.0 259.1,624.5 259.7,632.2 260.3,644.9 260.9,625.8 261.7,648.7 262.3,632.7 263.0,634.4 263.6,643.4 264.4,633.7 265.0,639.9 265.6,640.3 266.2,636.4 267.0,646.1 267.7,643.3 268.3,642.5 268.9,647.4 269.7,641.7 270.3,643.8 270.9,638.3 271.5,633.7 272.3,643.4 273.0,637.2 273.6,642.6 274.2,652.7 275.0,631.1 275.6,635.9 276.2,638.1 276.8,632.4 277.6,646.1 278.3,639.7 278.9,637.8 279.5,643.4 280.3,624.5 281.1,633.6 281.9,634.6 282.7,633.7 283.5,646.1 284.1,638.9 284.7,641.2 285.3,643.4 286.1,636.4 286.8,639.8 287.4,639.5 288.0,639.0 288.8,643.4 289.4,643.1 290.0,643.2 290.6,652.7 291.4,633.7 292.1,646.2 292.7,644.3 293.3,628.4 294.1,646.1 294.8,639.9 295.4,640.8 296.2,628.4 296.8,635.5 297.5,639.3 298.1,633.7 298.9,643.4 299.5,636.8 300.1,636.2 300.7,640.8 301.5,632.4 302.1,636.2 302.8,640.1 303.4,631.1 304.2,643.4 304.8,650.9 305.5,676.6 306.3,615.2 307.4,617.8 308.2,646.1 308.8,630.6 309.4,635.2 310.0,646.1 310.8,632.4 311.4,637.4 312.1,636.8 312.7,631.1 313.5,643.4 314.1,636.4 314.7,636.4 315.3,643.4 316.1,631.1 316.7,634.3 317.4,636.4 318.0,629.8 318.8,640.8 319.4,637.6 320.0,636.4 320.6,640.8 321.4,632.4 322.0,637.8 322.7,635.6 323.3,629.8 324.1,639.4 324.7,633.4 325.3,637.4 325.9,640.8 326.7,632.4 327.4,639.1 328.0,634.9 328.6,629.8 329.4,643.4 330.0,633.4 330.6,640.3 331.2,652.7 332.0,631.1 333.1,628.4 333.9,656.7 334.6,643.4 335.2,659.3 336.0,625.8 336.6,642.5 337.3,647.3 337.9,628.4 338.7,648.7 339.3,638.4 339.9,637.6 340.5,638.1 341.3,628.4 341.9,631.6 342.6,634.8 343.2,632.4 344.0,638.1 344.6,637.7 345.2,635.3 345.8,643.4 346.6,633.7 347.3,640.9 348.0,641.7 348.8,659.3 349.8,717.7 350.6,609.9 351.3,678.3 351.9,639.0 352.7,696.5 353.8,664.6 354.6,636.4 355.4,631.1 356.2,697.8 357.0,659.3 357.8,591.3 358.6,647.9 359.4,625.8 360.2,662.0 360.9,628.3 361.5,646.1 362.3,615.2 363.0,635.7 363.6,633.4 364.2,636.4 365.0,643.4 365.7,654.1 366.3,681.9 367.1,639.0 367.9,648.0 368.7,617.8 369.5,640.8 370.2,626.9 370.8,643.4 371.6,620.5 372.2,633.2 372.9,642.9 373.5,641.7 374.3,648.7 374.9,646.2 375.5,648.8 376.1,654.0 376.9,641.7 377.5,645.3 378.2,643.0 378.8,636.4 379.6,648.7 380.2,652.9 380.9,664.6 381.7,639.0 382.8,636.4 383.6,691.2 384.2,656.5 384.9,659.3 385.7,617.8 386.5,639.1 387.3,640.9 388.1,619.2 388.9,662.0 389.5,649.3 390.1,651.8 390.7,662.0 391.5,641.7 392.1,656.1 392.8,647.9 393.4,636.4 394.2,659.3 395.2,667.3 396.0,633.7 396.7,669.2 397.4,636.4 398.2,699.1 399.0,662.5 399.7,659.3 400.5,669.9 401.3,590.0 402.0,640.2 402.7,615.2 403.5,643.4 404.1,636.8 404.7,639.4 405.3,648.7 406.1,617.8 406.9,643.1 407.7,637.4 408.5,619.2 409.3,651.4 409.9,640.3 410.5,647.8 411.2,659.3 412.0,639.0 412.7,650.2 413.4,641.9 414.1,628.4 414.9,651.4 415.7,637.5 416.5,646.1 417.3,628.4 417.9,634.0 418.5,643.4 419.1,628.4 419.9,654.0 420.5,651.6 421.1,642.4 421.8,662.0 422.6,631.1 423.2,640.3 423.8,641.4 424.4,633.7 425.2,659.3 425.8,644.2 426.5,641.7 427.1,648.7 427.9,636.4 428.5,640.7 429.2,623.1 430.0,638.1 430.7,622.0 431.3,640.8 432.1,611.2 432.7,626.0 433.4,626.8 434.0,625.8 434.8,646.1 435.4,640.3 436.0,644.2 436.6,651.4 437.4,636.4 438.2,637.4 439.0,632.1 439.8,621.8 440.6,651.4 441.2,636.1 441.8,638.2 442.5,646.1 443.3,628.4 443.9,644.3 444.5,639.8 445.1,641.7 445.9,651.4 446.5,642.0 447.2,640.8 447.8,654.0 448.6,632.4 449.2,640.3 449.8,641.4 450.4,641.7 451.2,643.4 451.8,643.4 452.5,643.7 453.1,646.1 453.9,641.7 454.5,635.6 455.1,627.5 455.7,608.5 456.5,646.1 457.2,628.6 457.9,656.7 458.7,623.1 459.3,635.9 459.9,645.5 460.5,639.0 461.3,648.7 461.9,642.1 462.5,642.8 463.2,646.1 464.0,637.7 464.6,645.1 465.3,641.7 466.1,648.7 466.9,635.3 467.7,643.4 468.5,608.5 469.1,628.7 469.7,647.9 470.3,636.4 471.1,660.7 471.7,649.7 472.4,637.2 473.0,643.4 473.8,625.8 474.4,636.8 475.0,641.2 475.6,636.4 476.4,643.4 477.0,638.9 477.7,635.0 478.3,648.7 479.1,625.8 479.7,635.2 480.4,633.7 481.2,662.0 481.8,650.8 482.4,643.2 483.1,646.1 483.9,620.5 484.7,631.9 485.4,634.6 486.2,623.1 487.0,646.1 487.7,638.8 488.3,640.0 488.9,654.0 489.7,639.0 490.3,649.9 490.9,644.2 491.5,628.4 492.3,651.4 493.0,631.2 493.7,643.4 494.5,617.8 495.3,627.4 496.1,638.2 496.9,633.7 497.7,651.4 498.3,641.3 498.9,645.2 499.5,648.7 500.3,636.4 501.4,631.1 502.2,666.0 502.8,649.2 503.5,654.0 504.3,629.8 504.9,644.2 505.5,639.5 506.1,636.4 506.9,652.7 507.6,635.4 508.2,633.1 508.8,651.4 509.6,613.8 509.7,612.5 510.5,648.7 511.5,651.4 512.3,633.8 513.4,620.5 514.2,646.1 514.9,637.7 515.5,659.4 516.3,639.1 517.4,613.9 518.2,640.8 518.8,639.2 519.5,648.7 520.3,633.8 520.9,643.1 521.5,645.5 522.2,644.4 523.0,648.7 523.6,644.2 524.2,637.7 524.8,638.1 525.6,631.1 526.3,636.5 526.9,632.4 527.7,643.4 528.5,644.2 529.3,675.3 530.1,644.4 530.8,661.6 531.4,639.1 532.2,667.3 532.9,629.6 533.6,656.7 534.4,605.9 535.2,646.8 536.0,633.8 536.8,659.4 537.4,650.5 538.1,656.7 538.9,628.5 539.5,650.6 540.1,642.4 540.7,641.7 541.5,660.7 542.2,648.8 542.8,653.9 543.4,659.4 544.2,644.4 545.2,623.1 546.0,654.0 546.7,631.5 547.3,640.0 547.9,656.7 548.7,625.8 549.3,642.5 549.9,651.7 550.6,636.4 551.4,656.7 552.0,646.1 552.7,659.4 553.5,625.8 554.1,651.2 554.8,625.8 555.6,662.0 556.7,662.0 557.5,617.8 558.5,641.7 559.3,659.4 559.9,649.4 560.6,658.4 561.2,670.0 562.0,640.4 562.6,672.3 563.3,663.0 564.1,725.7 564.7,691.0 565.3,634.9 565.9,667.3 566.7,596.6 567.4,647.9 568.1,604.6 568.9,667.3 569.5,625.6 570.2,664.7 571.0,609.9 571.8,635.7 572.6,620.5 573.4,643.4 574.0,633.6 574.6,630.8 575.2,643.4 576.0,628.5 576.7,639.4 577.3,635.2 577.9,631.1 578.7,643.4 579.4,633.2 580.0,640.8 580.8,624.5 581.4,628.3 582.0,631.4 582.7,623.1 583.5,646.1 584.5,640.8 585.3,621.8 586.0,633.9 586.6,628.5 587.4,646.1 588.0,666.0 588.8,636.4" fill="none" stroke="#3d6cb5" stroke-width="3.6" stroke-linejoin="round" stroke-linecap="round"/>
<text x="284.3" y="487.7" font-size="21.6" text-anchor="start" fill="#000" stroke="#000" stroke-width="0.2" textLength="64.6" lengthAdjust="spacingAndGlyphs">DJGCC</text>
<text x="8.4" y="529.6" font-size="18.4" text-anchor="start" fill="#000" stroke="#000" stroke-width="0.2" textLength="25.9" lengthAdjust="spacingAndGlyphs">.15</text>
<text x="8.4" y="568.3" font-size="18.4" text-anchor="start" fill="#000" stroke="#000" stroke-width="0.2" textLength="25.9" lengthAdjust="spacingAndGlyphs">.10</text>
<text x="8.4" y="607.1" font-size="18.4" text-anchor="start" fill="#000" stroke="#000" stroke-width="0.2" textLength="25.9" lengthAdjust="spacingAndGlyphs">.05</text>
<text x="8.4" y="645.8" font-size="18.4" text-anchor="start" fill="#000" stroke="#000" stroke-width="0.2" textLength="25.9" lengthAdjust="spacingAndGlyphs">.00</text>
<text x="0.5" y="684.5" font-size="18.4" text-anchor="start" fill="#000" stroke="#000" stroke-width="0.2" textLength="33.8" lengthAdjust="spacingAndGlyphs">-.05</text>
<text x="0.5" y="723.2" font-size="18.4" text-anchor="start" fill="#000" stroke="#000" stroke-width="0.2" textLength="33.8" lengthAdjust="spacingAndGlyphs">-.10</text>
<text x="0.5" y="762.0" font-size="18.4" text-anchor="start" fill="#000" stroke="#000" stroke-width="0.2" textLength="33.8" lengthAdjust="spacingAndGlyphs">-.15</text>
<text x="0.5" y="800.7" font-size="18.4" text-anchor="start" fill="#000" stroke="#000" stroke-width="0.2" textLength="33.8" lengthAdjust="spacingAndGlyphs">-.20</text>
<text x="80.6" y="820.0" font-size="19.5" text-anchor="start" fill="#000" stroke="#000" stroke-width="0.2" textLength="43.6" lengthAdjust="spacingAndGlyphs">2008</text>
<text x="159.9" y="820.0" font-size="19.5" text-anchor="start" fill="#000" stroke="#000" stroke-width="0.2" textLength="43.6" lengthAdjust="spacingAndGlyphs">2010</text>
<text x="238.7" y="820.0" font-size="19.5" text-anchor="start" fill="#000" stroke="#000" stroke-width="0.2" textLength="43.6" lengthAdjust="spacingAndGlyphs">2012</text>
<text x="317.6" y="820.0" font-size="19.5" text-anchor="start" fill="#000" stroke="#000" stroke-width="0.2" textLength="43.6" lengthAdjust="spacingAndGlyphs">2014</text>
<text x="396.8" y="820.0" font-size="19.5" text-anchor="start" fill="#000" stroke="#000" stroke-width="0.2" textLength="43.6" lengthAdjust="spacingAndGlyphs">2016</text>
<text x="476.1" y="820.0" font-size="19.5" text-anchor="start" fill="#000" stroke="#000" stroke-width="0.2" textLength="43.6" lengthAdjust="spacingAndGlyphs">2018</text>
<text x="555.0" y="820.0" font-size="19.5" text-anchor="start" fill="#000" stroke="#000" stroke-width="0.2" textLength="43.6" lengthAdjust="spacingAndGlyphs">2020</text>
<text x="39.5" y="549.8" font-size="19.5" text-anchor="start" fill="#000" stroke="#000" stroke-width="0.2" textLength="135.5" lengthAdjust="spacingAndGlyphs">Financial crisis</text>
<text x="332.7" y="543.9" font-size="19.5" text-anchor="start" fill="#000" stroke="#000" stroke-width="0.2" textLength="96.8" lengthAdjust="spacingAndGlyphs">Oil shocks</text>
<text x="463.9" y="543.4" font-size="19.5" text-anchor="start" fill="#000" stroke="#000" stroke-width="0.2" textLength="134.8" lengthAdjust="spacingAndGlyphs">Covid-19 crisis</text>
<line x1="686.8" y1="528.8" x2="686.8" y2="798.8" stroke="#e4e4e4" stroke-width="1.2"/>
<line x1="765.0" y1="528.8" x2="765.0" y2="798.8" stroke="#e4e4e4" stroke-width="1.2"/>
<line x1="843.8" y1="528.8" x2="843.8" y2="798.8" stroke="#e4e4e4" stroke-width="1.2"/>
<line x1="922.8" y1="528.8" x2="922.8" y2="798.8" stroke="#e4e4e4" stroke-width="1.2"/>
<line x1="1002.0" y1="528.8" x2="1002.0" y2="798.8" stroke="#e4e4e4" stroke-width="1.2"/>
<line x1="1081.2" y1="528.8" x2="1081.2" y2="798.8" stroke="#e4e4e4" stroke-width="1.2"/>
<line x1="1160.0" y1="528.8" x2="1160.0" y2="798.8" stroke="#e4e4e4" stroke-width="1.2"/>
<line x1="645.0" y1="582.8" x2="1194.2" y2="582.8" stroke="#e4e4e4" stroke-width="1.2"/>
<line x1="645.0" y1="690.8" x2="1194.2" y2="690.8" stroke="#e4e4e4" stroke-width="1.2"/>
<line x1="645.0" y1="744.8" x2="1194.2" y2="744.8" stroke="#e4e4e4" stroke-width="1.2"/>
<rect x="661.8" y="528.8" width="88.8" height="270.0" fill="#e4e4e4" fill-opacity="0.815"/>
<rect x="947.8" y="528.8" width="70.7" height="270.0" fill="#e4e4e4" fill-opacity="0.815"/>
<rect x="1131.5" y="528.8" width="62.7" height="270.0" fill="#e4e4e4" fill-opacity="0.815"/>
<line x1="645.0" y1="636.8" x2="1194.2" y2="636.8" stroke="#bcbcbc" stroke-width="1.4"/>
<polyline points="644.6,615.2 645.4,645.5 645.9,644.2 646.7,615.2 647.3,629.8 648.1,642.8 648.6,648.2 649.4,632.5 650.0,643.6 650.6,636.5 651.4,649.5 652.2,650.8 653.0,637.8 653.9,633.8 654.7,648.2 655.7,650.2 656.5,633.8 657.5,629.8 658.3,645.5 659.3,637.5 660.1,632.5 660.7,636.4 661.3,635.2 662.1,642.8 662.5,640.0 663.5,678.0 664.8,655.0 666.2,686.0 667.3,650.0 668.3,608.0 668.6,634.8 669.4,607.2 669.9,616.5 670.7,630.8 671.3,633.5 672.1,611.2 672.6,589.8 673.4,632.2 673.9,640.2 674.7,607.2 675.3,612.5 676.1,636.2 676.6,642.8 677.4,627.2 677.9,627.2 678.7,645.5 679.3,662.8 680.1,632.5 680.6,632.5 681.4,657.5 681.9,650.8 682.7,629.8 683.3,632.5 684.1,633.5 684.6,629.5 685.4,612.5 685.9,619.2 686.7,636.2 687.3,629.5 688.1,621.8 688.6,621.8 689.4,636.8 689.9,629.5 690.7,623.2 691.3,627.4 691.9,627.2 692.7,628.2 693.3,628.4 693.9,632.2 694.7,628.5 695.3,624.8 695.9,611.8 696.7,629.5 697.3,630.8 698.1,627.2 698.9,628.5 699.7,630.8 700.6,634.8 701.4,628.5 702.2,629.8 703.0,634.8 703.7,647.5 704.5,632.5 705.3,633.8 706.1,637.5 706.7,633.2 707.3,634.8 708.1,627.2 708.6,633.8 709.4,638.8 709.9,645.5 710.7,632.5 711.3,639.3 711.9,628.5 712.7,637.5 713.7,640.2 714.5,632.5 715.3,631.2 716.1,642.8 716.6,646.2 717.4,633.8 717.9,625.8 718.7,640.2 719.3,638.8 720.1,628.5 720.6,632.5 721.4,636.2 722.0,634.6 722.6,637.5 723.4,625.8 724.2,632.5 725.0,637.5 725.9,644.2 726.7,629.8 727.3,638.3 727.9,631.2 728.7,642.8 729.7,637.5 730.5,625.8 731.3,624.5 732.1,636.2 733.0,638.8 733.8,624.5 734.6,627.2 735.4,636.2 736.0,629.1 736.6,638.8 737.4,627.2 737.9,631.2 738.7,641.5 739.3,633.8 739.9,638.8 740.7,627.2 741.5,629.8 742.3,645.5 743.3,648.2 744.1,633.8 745.0,633.8 745.8,650.8 746.9,650.2 747.7,632.5 748.6,628.5 749.4,648.2 749.9,640.2 750.7,628.5 751.7,629.8 752.5,636.2 753.3,637.5 754.1,631.2 754.7,638.7 755.3,629.8 756.1,649.5 756.9,637.5 757.7,628.5 758.3,628.5 759.1,638.8 760.2,640.2 761.0,628.5 761.9,631.2 762.7,641.5 763.7,637.5 764.5,632.5 765.0,628.5 765.8,633.5 766.5,631.3 767.3,634.8 768.1,631.2 769.0,632.5 769.8,636.2 770.9,637.5 771.7,633.8 772.6,635.2 773.4,640.2 773.9,648.2 774.7,625.8 775.3,624.5 776.1,645.5 776.7,633.5 777.3,640.2 778.1,620.5 778.6,613.8 779.4,637.5 779.9,636.2 780.7,620.5 781.5,621.8 782.3,656.2 782.9,645.5 783.7,621.8 784.2,624.5 785.0,642.8 785.5,648.2 786.3,627.2 787.3,629.8 788.1,642.8 789.0,640.2 789.8,620.5 790.6,624.5 791.4,646.2 792.2,645.5 793.0,631.2 793.9,625.8 794.7,642.8 795.3,644.2 796.1,629.8 796.7,635.0 797.3,627.2 798.1,640.2 798.9,636.2 799.7,620.5 800.6,620.5 801.4,638.8 801.9,638.8 802.7,623.2 802.3,628.5 803.1,637.5 803.7,630.4 804.3,640.2 805.1,628.5 806.0,632.5 806.8,647.5 807.9,642.8 808.7,629.8 809.6,632.5 810.4,638.8 811.0,637.0 811.6,637.5 812.4,631.2 813.0,636.5 813.6,631.2 814.4,640.2 815.3,641.5 816.1,632.5 817.2,629.8 818.0,636.2 818.9,634.8 819.7,633.8 820.3,631.4 820.9,626.5 821.7,633.5 822.3,630.7 822.9,633.5 823.7,627.2 824.3,631.9 824.9,632.5 825.7,637.5 826.3,635.4 826.9,646.8 827.7,628.5 828.7,629.8 829.5,638.8 830.2,634.2 830.9,637.5 831.7,629.8 832.3,632.6 832.9,630.5 833.7,636.2 834.3,634.0 834.9,637.5 835.7,633.8 836.3,635.7 836.9,633.8 837.7,638.8 838.3,637.5 838.9,640.2 839.7,635.2 840.3,635.2 841.1,641.5 841.7,636.7 842.3,637.5 843.1,635.2 843.7,636.1 844.3,635.2 845.1,638.8 845.6,638.8 846.4,633.2 847.0,637.2 847.6,635.2 848.4,638.8 849.0,637.3 849.6,640.2 850.4,636.5 850.9,636.5 851.7,637.5 852.7,634.8 853.5,629.2 854.5,633.8 855.3,644.8 856.3,636.2 857.1,629.8 858.0,625.8 858.8,632.2 859.6,637.5 860.4,632.5 861.0,637.8 861.6,635.2 862.4,640.2 863.3,642.8 864.1,639.2 864.9,640.5 865.7,644.2 866.3,645.5 867.1,640.5 867.6,639.2 868.4,649.5 869.2,657.5 870.0,637.8 870.3,622.5 871.1,636.2 871.6,633.5 872.4,624.5 872.9,627.2 873.7,634.8 874.5,642.8 875.3,629.8 876.3,632.5 877.1,649.5 877.6,642.8 878.4,628.5 878.9,627.2 879.7,645.5 880.3,646.8 881.1,628.5 882.0,627.2 882.8,636.2 883.9,637.5 884.7,632.5 885.3,633.3 886.0,627.2 886.8,634.8 887.6,641.5 888.4,633.8 889.2,632.5 890.0,640.2 890.7,637.4 891.3,640.2 892.1,632.5 892.9,633.8 893.7,637.5 894.3,634.6 894.9,636.2 895.7,632.5 896.7,630.5 897.5,634.8 898.5,636.2 899.3,633.8 900.0,636.0 900.7,633.8 901.5,637.5 902.5,634.8 903.3,628.5 904.0,631.1 904.7,628.5 905.5,644.2 906.0,638.8 906.8,628.5 907.9,627.8 908.7,637.5 909.6,637.5 910.4,629.8 911.0,632.9 911.6,632.5 912.4,637.5 913.0,632.1 913.6,634.8 914.4,629.2 915.0,636.6 915.6,632.5 916.4,645.5 916.9,637.5 917.7,633.8 918.3,635.9 918.9,632.5 919.7,637.5 920.3,634.6 920.9,638.8 921.7,633.8 922.3,635.7 922.9,633.8 923.7,637.5 924.3,635.8 924.9,636.2 925.7,632.5 926.3,634.1 926.9,630.5 927.7,636.2 928.7,644.2 929.5,635.2 930.0,635.2 930.8,637.5 931.6,634.8 932.4,627.8 932.9,627.2 933.7,636.2 934.5,638.8 935.3,632.5 936.3,635.2 937.1,640.2 938.0,638.8 938.8,632.5 939.3,629.8 940.1,638.8 940.9,637.5 941.7,628.5 942.5,625.8 943.3,636.2 943.6,634.8 944.4,621.2 944.9,625.8 945.7,632.2 946.3,634.8 947.1,627.2 947.6,624.5 948.4,637.5 948.9,645.5 949.7,632.5 950.3,629.8 951.1,638.8 951.6,636.2 952.4,628.5 952.9,629.8 953.7,640.2 954.5,634.8 955.3,625.8 956.3,633.8 957.1,640.2 957.6,648.2 958.4,633.8 958.9,635.2 959.7,654.8 960.6,642.8 961.4,635.2 962.3,633.8 963.1,640.2 963.9,652.2 964.7,635.2 965.3,637.3 965.9,633.8 966.7,640.2 967.3,634.1 967.9,638.8 968.7,629.2 969.3,633.4 969.9,633.8 970.7,637.5 971.7,637.5 972.5,632.5 973.3,635.2 974.1,640.2 974.9,641.5 975.7,632.5 976.6,629.8 977.4,637.5 978.3,640.2 979.1,628.5 980.2,631.2 981.0,636.2 981.9,642.8 982.7,632.5 983.7,635.2 984.5,644.2 985.5,641.5 986.3,633.8 987.3,633.8 988.1,638.8 989.0,640.2 989.8,632.5 990.6,631.2 991.4,638.8 992.2,637.5 993.0,629.8 993.9,629.8 994.7,642.2 995.3,633.4 995.9,637.5 996.7,632.5 997.5,627.2 998.3,636.2 999.3,634.8 1000.1,628.5 1000.7,630.5 1001.3,625.8 1002.1,634.8 1002.9,633.5 1003.7,629.8 1004.6,632.5 1005.4,636.2 1006.0,634.2 1006.6,635.0 1007.4,635.0 1007.9,632.5 1008.7,637.5 1009.5,646.2 1010.3,633.8 1011.3,628.5 1012.1,638.8 1013.0,636.2 1013.8,627.2 1014.6,621.8 1015.4,636.2 1016.2,638.8 1017.0,621.8 1017.5,632.5 1018.3,642.8 1019.3,641.5 1020.1,633.8 1021.0,632.5 1021.8,637.5 1022.6,638.8 1023.4,632.5 1023.9,635.2 1024.7,650.8 1025.3,648.2 1026.1,633.8 1026.6,627.2 1027.4,646.8 1027.9,645.5 1028.7,632.5 1029.3,642.8 1029.9,635.2 1030.7,645.5 1031.7,648.2 1032.5,635.2 1033.3,637.8 1034.1,654.2 1034.6,640.2 1035.4,635.2 1036.2,635.2 1037.0,637.5 1037.9,636.2 1038.7,629.8 1039.3,627.2 1040.1,638.8 1041.0,642.8 1041.8,633.8 1042.6,629.8 1043.4,640.2 1044.2,637.5 1045.0,629.8 1045.9,629.8 1046.7,644.2 1047.3,649.5 1048.1,629.8 1048.6,621.8 1049.4,637.5 1049.9,634.8 1050.7,622.5 1051.5,625.8 1052.3,638.8 1053.3,637.5 1054.1,628.5 1054.9,628.5 1055.7,636.2 1056.6,637.5 1057.4,629.8 1057.9,629.8 1058.7,638.8 1059.7,644.2 1060.5,632.5 1061.3,628.5 1062.1,638.8 1062.9,637.5 1063.7,628.5 1064.6,632.5 1065.4,636.2 1066.3,637.5 1067.1,633.8 1067.9,632.5 1068.7,637.5 1069.5,638.8 1070.3,632.5 1071.3,631.2 1072.1,641.5 1073.0,644.2 1073.8,631.2 1074.3,632.5 1075.1,647.5 1075.9,637.5 1076.7,631.2 1077.5,629.8 1078.3,637.5 1079.3,645.5 1080.1,627.2 1081.0,632.5 1081.8,645.5 1082.9,649.5 1083.7,635.2 1084.6,635.2 1085.4,640.2 1086.3,637.5 1087.1,629.8 1087.9,627.2 1088.7,636.2 1089.5,638.8 1090.3,626.5 1091.3,629.8 1092.1,648.2 1092.6,645.5 1093.4,632.5 1093.9,629.8 1094.7,640.2 1095.3,640.2 1096.1,625.8 1097.0,631.2 1097.8,642.8 1098.6,644.2 1099.4,629.8 1100.2,629.8 1101.0,640.2 1101.9,637.5 1102.7,632.5 1103.7,633.8 1104.5,636.2 1105.5,636.2 1106.3,635.2 1107.3,635.2 1108.1,636.8 1109.0,653.5 1109.8,635.2 1110.6,633.8 1111.4,648.2 1112.2,641.5 1113.0,629.8 1113.9,628.5 1114.7,640.2 1114.6,638.5 1115.4,628.9 1116.2,629.6 1117.0,635.9 1117.8,637.2 1118.6,632.3 1119.6,636.1 1120.4,636.1 1121.0,632.6 1121.5,633.2 1122.3,625.6 1122.9,631.2 1123.5,626.9 1124.3,638.5 1124.9,635.2 1125.5,641.2 1126.3,629.6 1126.9,635.0 1127.5,623.0 1128.3,637.2 1129.2,638.5 1130.0,624.3 1130.8,630.9 1131.6,638.5 1132.4,639.9 1133.2,632.3 1134.2,626.9 1135.0,635.9 1135.8,634.6 1136.6,628.3 1137.5,620.3 1138.3,633.2 1139.1,645.2 1139.9,624.3 1140.4,623.0 1141.2,639.9 1142.1,635.9 1142.9,621.6 1143.8,621.6 1144.6,637.2 1145.4,650.5 1146.2,629.6 1146.8,625.6 1147.6,665.1 1148.1,653.1 1148.9,615.7 1149.4,624.3 1150.2,651.8 1151.0,651.8 1151.8,629.6 1152.7,629.6 1153.5,651.8 1154.5,639.9 1155.3,629.6 1156.3,632.3 1157.1,638.5 1158.1,638.5 1158.9,630.9 1159.8,626.9 1160.6,637.2 1161.4,635.9 1162.2,625.6 1162.8,631.9 1163.4,628.3 1164.2,631.9 1165.0,613.0 1166.0,640.0 1167.6,759.0 1168.4,534.0 1169.5,603.0 1170.6,587.0 1171.4,630.0 1172.3,659.8 1173.1,616.3 1174.0,613.7 1174.8,633.2 1175.6,637.2 1176.4,624.3 1177.3,624.3 1178.1,639.9 1178.6,637.2 1179.4,625.6 1180.2,625.6 1181.0,642.5 1181.6,647.8 1182.4,626.9 1182.9,629.6 1183.7,658.5 1184.2,646.5 1185.0,632.3 1185.5,628.3 1186.3,649.2 1187.3,647.8 1188.1,632.3 1188.9,632.3 1189.7,646.5 1189.9,643.9 1190.7,632.3" fill="none" stroke="#3d6cb5" stroke-width="3.0" stroke-linejoin="round" stroke-linecap="round"/>
<text x="887.9" y="489.8" font-size="21.4" text-anchor="start" fill="#000" stroke="#000" stroke-width="0.2" textLength="62.4" lengthAdjust="spacingAndGlyphs">DJCBP</text>
<text x="611.2" y="531.9" font-size="19.4" text-anchor="start" fill="#000" stroke="#000" stroke-width="0.2" textLength="26.8" lengthAdjust="spacingAndGlyphs">.08</text>
<text x="611.2" y="585.9" font-size="19.4" text-anchor="start" fill="#000" stroke="#000" stroke-width="0.2" textLength="26.8" lengthAdjust="spacingAndGlyphs">.04</text>
<text x="611.2" y="639.9" font-size="19.4" text-anchor="start" fill="#000" stroke="#000" stroke-width="0.2" textLength="26.8" lengthAdjust="spacingAndGlyphs">.00</text>
<text x="604.3" y="693.9" font-size="19.4" text-anchor="start" fill="#000" stroke="#000" stroke-width="0.2" textLength="33.7" lengthAdjust="spacingAndGlyphs">-.04</text>
<text x="604.3" y="747.9" font-size="19.4" text-anchor="start" fill="#000" stroke="#000" stroke-width="0.2" textLength="33.7" lengthAdjust="spacingAndGlyphs">-.08</text>
<text x="604.3" y="801.9" font-size="19.4" text-anchor="start" fill="#000" stroke="#000" stroke-width="0.2" textLength="33.7" lengthAdjust="spacingAndGlyphs">-.12</text>
<text x="683.2" y="822.0" font-size="20" text-anchor="start" fill="#000" stroke="#000" stroke-width="0.2" textLength="44.4" lengthAdjust="spacingAndGlyphs">2008</text>
<text x="762.8" y="822.0" font-size="20" text-anchor="start" fill="#000" stroke="#000" stroke-width="0.2" textLength="44.4" lengthAdjust="spacingAndGlyphs">2010</text>
<text x="841.4" y="822.0" font-size="20" text-anchor="start" fill="#000" stroke="#000" stroke-width="0.2" textLength="44.4" lengthAdjust="spacingAndGlyphs">2012</text>
<text x="920.2" y="822.0" font-size="20" text-anchor="start" fill="#000" stroke="#000" stroke-width="0.2" textLength="44.4" lengthAdjust="spacingAndGlyphs">2014</text>
<text x="999.7" y="822.0" font-size="20" text-anchor="start" fill="#000" stroke="#000" stroke-width="0.2" textLength="44.4" lengthAdjust="spacingAndGlyphs">2016</text>
<text x="1078.5" y="822.0" font-size="20" text-anchor="start" fill="#000" stroke="#000" stroke-width="0.2" textLength="44.4" lengthAdjust="spacingAndGlyphs">2018</text>
<text x="1157.3" y="822.0" font-size="20" text-anchor="start" fill="#000" stroke="#000" stroke-width="0.2" textLength="44.4" lengthAdjust="spacingAndGlyphs">2020</text>
<text x="646.2" y="548.8" font-size="20" text-anchor="start" fill="#000" stroke="#000" stroke-width="0.2" textLength="135.5" lengthAdjust="spacingAndGlyphs">Financial crisis</text>
<text x="933.3" y="549.9" font-size="20" text-anchor="start" fill="#000" stroke="#000" stroke-width="0.2" textLength="97.6" lengthAdjust="spacingAndGlyphs">Oil shocks</text>
<text x="1065.8" y="549.4" font-size="20" text-anchor="start" fill="#000" stroke="#000" stroke-width="0.2" textLength="135.5" lengthAdjust="spacingAndGlyphs">Covid-19 crisis</text>
</svg></body></html>
